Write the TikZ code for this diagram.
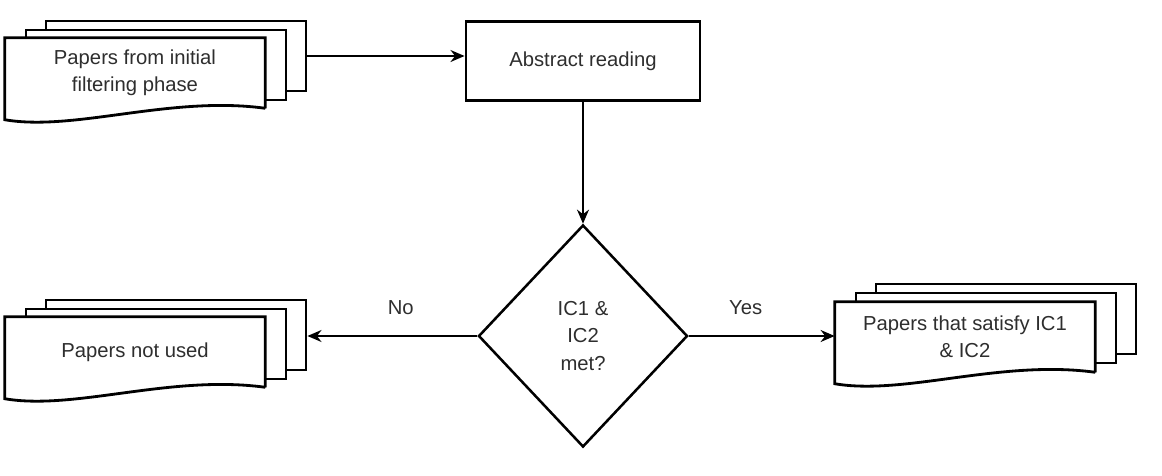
\documentclass[tikz,border=0pt]{standalone}
\usepackage{fontspec}
\setmainfont{Liberation Sans}
\usetikzlibrary{arrows.meta, shapes.geometric, backgrounds}

\begin{document}
\begin{tikzpicture}[
    x=0.025cm, y=-0.025cm,
    >={Stealth[length=10pt, width=8.5pt]},
    font=\fontsize{14.4pt}{19.5pt}\selectfont,
    page/.style={minimum width=6.5cm, minimum height=1.75cm, inner sep=0pt, align=center, text=black!82},
    sheet/.style={draw, fill=white, line width=2pt, minimum width=6.5cm, minimum height=1.75cm, inner sep=0pt},
    outline/.style={draw, fill=white, line width=2pt, line join=miter},
    block/.style={draw, rectangle, line width=2pt, minimum width=5.85cm, minimum height=1.975cm, align=center, text=black!82},
    decision/.style={draw, diamond, line width=1.8pt, minimum width=5.225cm, minimum height=5.55cm, inner sep=0pt, align=center, text=black!82},
    link/.style={->, line width=1.5pt},
    lbl/.style={text=black!82}
]
    \useasboundingbox (0,0) rectangle (1162,475);

    % Document stacks (text on top, sheets behind)
    \node[page] (src) at (135,73) {Papers from initial\\filtering phase};
    \node[page] (unused) at (135,352) {Papers not used};
    \node[page] (sat) at (965,337) {Papers that satisfy IC1\\\& IC2};

    \begin{scope}[on background layer]
        \node[sheet] (src3) at ([shift={(41,-17)}]src.center) {};
        \node[sheet] (src2) at ([shift={(21,-8)}]src.center) {};
        \draw[outline] (src.south east) -- (src.north east) -- (src.north west) -- ++(0,82)
            .. controls +(70,12) and +(-95,-13) .. (src.south east);

        \node[sheet] (unused3) at ([shift={(41,-17)}]unused.center) {};
        \node[sheet] (unused2) at ([shift={(21,-8)}]unused.center) {};
        \draw[outline] (unused.south east) -- (unused.north east) -- (unused.north west) -- ++(0,82)
            .. controls +(70,12) and +(-95,-13) .. (unused.south east);

        \node[sheet] (sat3) at ([shift={(41,-18)}]sat.center) {};
        \node[sheet] (sat2) at ([shift={(21,-9)}]sat.center) {};
        \draw[outline] (sat.south east) -- (sat.north east) -- (sat.north west) -- ++(0,82)
            .. controls +(70,12) and +(-95,-13) .. (sat.south east);
    \end{scope}

    \node[block] (abstract) at (583,61) {Abstract reading};
    \node[decision] (dec) at (583,336) {IC1 \&\\IC2\\met?};

    \draw[link] (src3.east) -- (src3.east -| abstract.west);
    \draw[link] (abstract.south) -- (dec.north);
    \draw[link] (dec.west) -- node[pos=0.45, yshift=0.72cm, lbl] {No} (dec.west -| unused3.east);
    \draw[link] (dec.east) -- node[pos=0.39, yshift=0.72cm, lbl] {Yes} (dec.east -| sat.west);

\end{tikzpicture}
\end{document}
